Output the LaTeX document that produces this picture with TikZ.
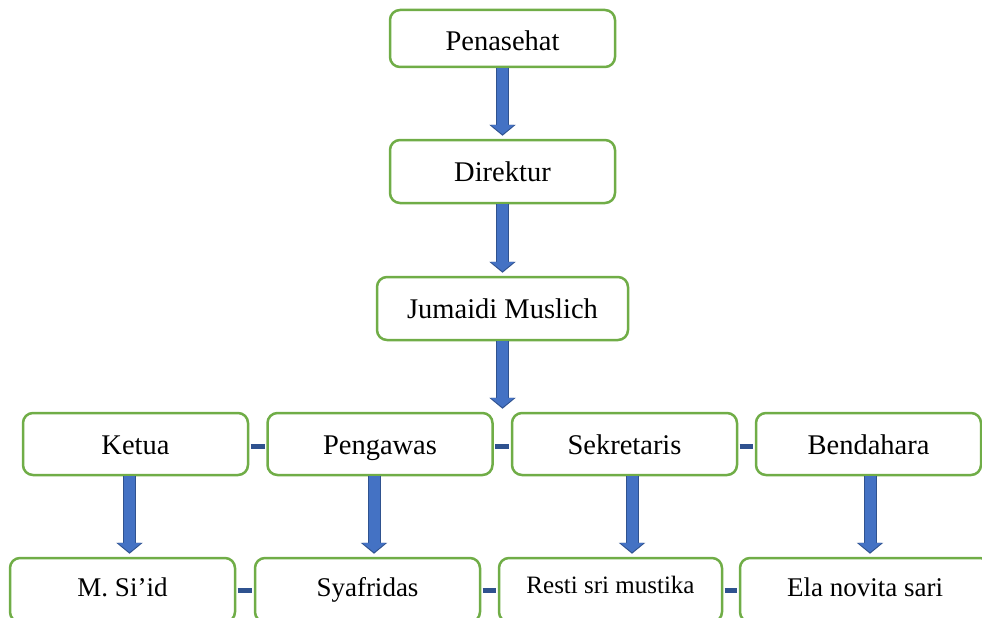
\documentclass[tikz,border=0pt]{standalone}
\usepackage{fontspec}
\setmainfont{Liberation Serif}
\usepackage{tikz}
\usetikzlibrary{positioning,
        arrows.meta}
\usepackage{xcolor}
\definecolor{boxgreen}{HTML}{70AD47}
\definecolor{arrowblue}{HTML}{4472C4}
\definecolor{arrowdark}{HTML}{2F528F}

\tikzset{
        orgbox/.style={rectangle,rounded corners=10pt,draw=boxgreen,line width=2.5pt,
                fill=white,minimum width=225pt,minimum height=62pt,inner sep=0pt,
                text height=20pt,text depth=0pt,
                font=\fontsize{28.5}{32}\selectfont},
        lowbox/.style={orgbox,minimum height=64pt,text height=12pt,font=\fontsize{27}{31}\selectfont},
        fat/.style={draw=arrowdark,line width=13pt,shorten >=3pt,
                -{Triangle[width=26pt,length=11pt]},
                postaction={draw=arrowblue,line width=11pt,shorten >=4.5pt,
                        -{Triangle[width=22.5pt,length=9.3pt]}}},
        link/.style={draw=arrowdark,line width=5pt,shorten <=1.3pt,shorten >=1.3pt}
}

\begin{document}
\begin{tikzpicture}[x=1pt,y=-1pt]
        \useasboundingbox (0,0) rectangle (982,618);
        \node [orgbox,minimum height=57pt,text height=25pt] (pen) at (502.5,38.5) {Penasehat};
        \node [orgbox,minimum height=63pt] (dir) at (502.5,171.5) {Direktur};
        \node [orgbox,minimum height=63pt,minimum width=251pt] (jum) at (502.5,308.5) {Jumaidi Muslich};
        \node [orgbox] (ketua) at (135.5,444) {Ketua};
        \node [orgbox] (pengawas) at (380,444) {Pengawas};
        \node [orgbox] (sekretaris) at (624.5,444) {Sekretaris};
        \node [orgbox] (bendahara) at (868.5,444) {Bendahara};
        \node [lowbox] (msiid) at (122.5,590) {M. Si’id};
        \node [lowbox] (syafridas) at (367.5,590) {Syafridas};
        \node [lowbox,minimum width=223pt,text height=7pt,font=\fontsize{25}{29}\selectfont] (resti) at (610.5,590) {Resti sri mustika};
        \node [lowbox,minimum width=250pt] (ela) at (865,590) {Ela novita sari};

        \draw [fat] (pen.south) -- (dir.north);
        \draw [fat] (dir.south) -- (jum.north);
        \draw [fat] (jum.south) -- (jum.south |- ketua.north);
        \draw [fat] ([xshift=-6pt]ketua.south) -- ([xshift=-6pt]ketua.south |- msiid.north);
        \draw [fat] ([xshift=-6pt]pengawas.south) -- ([xshift=-6pt]pengawas.south |- syafridas.north);
        \draw [fat] ([xshift=7.5pt]sekretaris.south) -- ([xshift=7.5pt]sekretaris.south |- resti.north);
        \draw [fat] ([xshift=1.5pt]bendahara.south) -- ([xshift=1.5pt]bendahara.south |- ela.north);

        \draw [link] ([yshift=-2pt]ketua.east) -- ([yshift=-2pt]pengawas.west);
        \draw [link] ([yshift=-2pt]pengawas.east) -- ([yshift=-2pt]sekretaris.west);
        \draw [link] ([yshift=-2pt]sekretaris.east) -- ([yshift=-2pt]bendahara.west);
        \draw [link] (msiid) -- (syafridas);
        \draw [link] (syafridas) -- (resti);
        \draw [link] (resti) -- (ela);
\end{tikzpicture}
\end{document}
